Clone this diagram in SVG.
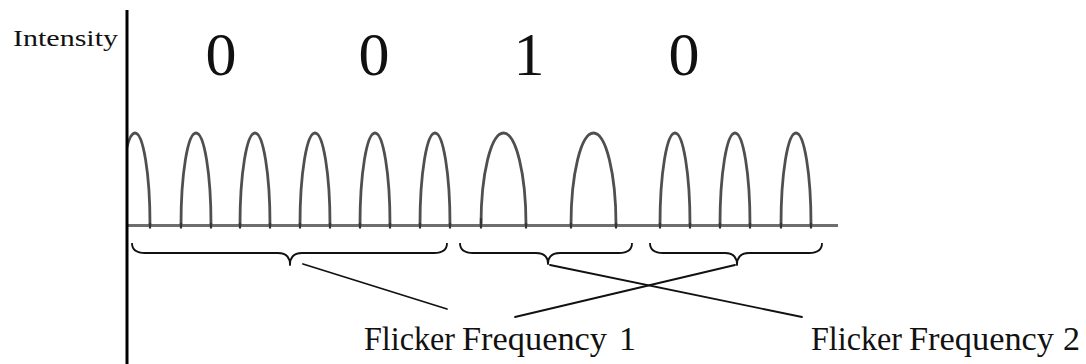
<svg xmlns="http://www.w3.org/2000/svg" width="1086" height="364" viewBox="0 0 1086 364">
  <style>
    .serif { font-family: "Liberation Serif", "Times New Roman", serif; fill: #111; }
    .bit { font-size: 62px; text-anchor: middle; }
    .label { font-size: 34px; }
    .pulse { fill: none; stroke: #4f4f4f; stroke-width: 2.8; stroke-linecap: round; }
    .tick { stroke: #333; stroke-width: 2.2; }
    .brace { fill: none; stroke: #111; stroke-width: 1.8; stroke-linejoin: round; }
    .leader { stroke: #111; stroke-width: 1.8; stroke-linecap: round; }
  </style>
  <defs>
    <clipPath id="plotArea">
      <rect x="128" y="0" width="958" height="364"/>
    </clipPath>
  </defs>

  <rect width="1086" height="364" fill="#fff"/>

  <!-- time axis -->
  <line id="baseline" x1="127" y1="225.5" x2="838" y2="225.5" stroke="#6e6e6e" stroke-width="2.8"/>

  <!-- light pulses: short period for 0, long period for 1 -->
  <g id="pulses" class="pulse" clip-path="url(#plotArea)">
    <path d="M120,225 C120,174 126.7,133 135,133 C143.3,133 150,174 150,225"/>
    <path d="M181,225 C181,174 187.7,133 196,133 C204.3,133 211,174 211,225"/>
    <path d="M240,225 C240,174 246.7,133 255,133 C263.3,133 270,174 270,225"/>
    <path d="M300,225 C300,174 306.7,133 315,133 C323.3,133 330,174 330,225"/>
    <path d="M360,225 C360,174 366.7,133 375,133 C383.3,133 390,174 390,225"/>
    <path d="M420,225 C420,174 426.7,133 435,133 C443.3,133 450,174 450,225"/>
    <path d="M481,225 C481,174 491,133 503.5,133 C516,133 526,174 526,225"/>
    <path d="M571,225 C571,174 581,133 593.5,133 C606,133 616,174 616,225"/>
    <path d="M660,225 C660,174 666.7,133 675,133 C683.3,133 690,174 690,225"/>
    <path d="M720,225 C720,174 726.7,133 735,133 C743.3,133 750,174 750,225"/>
    <path d="M781,225 C781,174 787.7,133 796,133 C804.3,133 811,174 811,225"/>
  </g>

  <!-- small marks where pulses meet the axis -->
  <g id="ticks" class="tick">
    <line x1="150" y1="223" x2="150" y2="228.5"/>
    <line x1="181" y1="223" x2="181" y2="228.5"/>
    <line x1="211" y1="223" x2="211" y2="228.5"/>
    <line x1="240" y1="223" x2="240" y2="228.5"/>
    <line x1="270" y1="223" x2="270" y2="228.5"/>
    <line x1="300" y1="223" x2="300" y2="228.5"/>
    <line x1="330" y1="223" x2="330" y2="228.5"/>
    <line x1="360" y1="223" x2="360" y2="228.5"/>
    <line x1="390" y1="223" x2="390" y2="228.5"/>
    <line x1="420" y1="223" x2="420" y2="228.5"/>
    <line x1="450" y1="223" x2="450" y2="228.5"/>
    <line x1="481" y1="218" x2="481" y2="228.5"/>
    <line x1="526" y1="223" x2="526" y2="228.5"/>
    <line x1="571" y1="223" x2="571" y2="228.5"/>
    <line x1="616" y1="223" x2="616" y2="228.5"/>
    <line x1="660" y1="223" x2="660" y2="228.5"/>
    <line x1="690" y1="223" x2="690" y2="228.5"/>
    <line x1="720" y1="223" x2="720" y2="228.5"/>
    <line x1="750" y1="223" x2="750" y2="228.5"/>
    <line x1="781" y1="223" x2="781" y2="228.5"/>
    <line x1="811" y1="223" x2="811" y2="228.5"/>
  </g>

  <!-- intensity axis -->
  <line id="axis" x1="127" y1="10" x2="127" y2="364" stroke="#000" stroke-width="3"/>

  <g id="axis-label">
    <text class="serif" x="13" y="46" font-size="24" textLength="105" lengthAdjust="spacingAndGlyphs">Intensity</text>
  </g>

  <g id="bits" class="serif bit">
    <text x="221" y="75">0</text>
    <text x="374" y="75">0</text>
    <text x="529" y="75">1</text>
    <text x="684" y="75">0</text>
  </g>

  <!-- braces grouping the pulse trains -->
  <g id="brace-0-0" class="brace">
    <path d="M132,243 Q132,253 145,253 L278,253 Q290,253 290,265 Q290,253 302,253 L434,253 Q447,253 447,243"/>
  </g>
  <g id="brace-1" class="brace">
    <path d="M460,243 Q460,253 473,253 L536,253 Q548,253 548,264 Q548,253 560,253 L619,253 Q632,253 632,243"/>
  </g>
  <g id="brace-0" class="brace">
    <path d="M650,243 Q650,253 663,253 L725,253 Q737,253 737,265 Q737,253 749,253 L809,253 Q822,253 822,243"/>
  </g>

  <g id="connectors" class="leader">
    <line x1="303" y1="264" x2="447" y2="309"/>
    <line x1="550" y1="265" x2="802" y2="317"/>
    <line x1="735" y1="265" x2="515" y2="317"/>
  </g>

  <g id="label-frequency-1" class="serif label">
    <text x="364" y="350" textLength="91" lengthAdjust="spacingAndGlyphs">Flicker</text>
    <text x="462" y="350" textLength="145" lengthAdjust="spacingAndGlyphs">Frequency</text>
    <text x="619" y="350">1</text>
  </g>
  <g id="label-frequency-2" class="serif label">
    <text x="811" y="350" textLength="91" lengthAdjust="spacingAndGlyphs">Flicker</text>
    <text x="909" y="350" textLength="145" lengthAdjust="spacingAndGlyphs">Frequency</text>
    <text x="1063" y="350">2</text>
  </g>
</svg>
